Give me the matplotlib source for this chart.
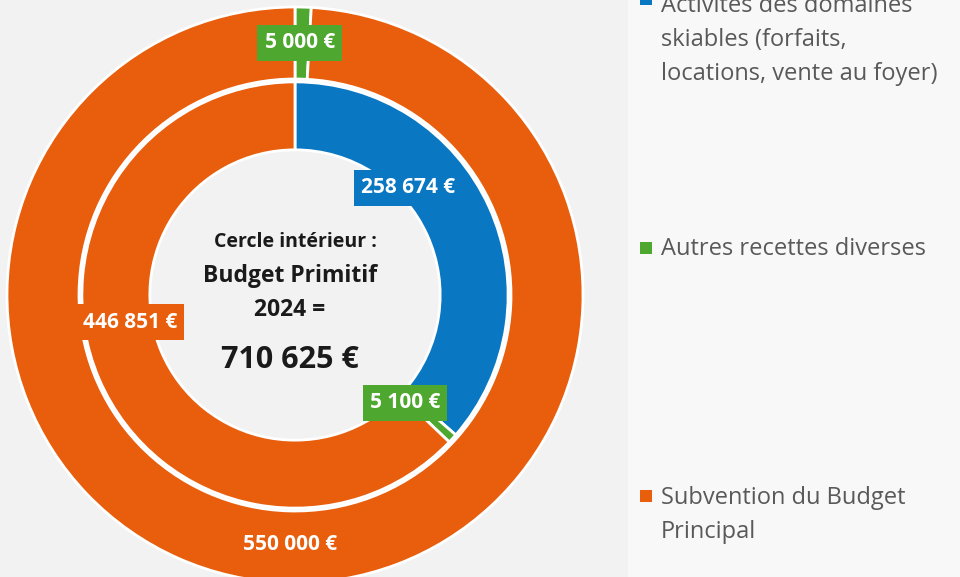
import matplotlib.pyplot as plt
from matplotlib.patches import Rectangle

# Data
categories = ["Activités des domaines skiables (forfaits, locations, vente au foyer)",
              "Autres recettes diverses",
              "Subvention du Budget Principal"]
legend_lines = ["Activités des domaines\nskiables (forfaits,\nlocations, vente au foyer)",
                "Autres recettes diverses",
                "Subvention du Budget\nPrincipal"]
inner_values = [258674, 5100, 446851]   # Budget Primitif 2024
outer_values = [0, 5000, 550000]
inner_total = sum(inner_values)

colors = ["#0A77C2", "#4EA72E", "#E85E0C"]


def euro(v):
    return f"{v:,}".replace(",", " ") + " €"


plt.rcParams['font.family'] = ['Open Sans', 'DejaVu Sans']

fig = plt.figure(figsize=(9.6, 5.77), dpi=100)
fig.patch.set_facecolor("#f2f2f2")
fig.patches.append(Rectangle((628 / 960, 0), 1 - 628 / 960, 1, transform=fig.transFigure,
                             facecolor="#f8f8f8", edgecolor="none", zorder=0))

# axes so that the donut center is at (295, 295) px with radius 288 px
R = 288
cx, cy = 295, 295
ax = fig.add_axes([(cx - R) / 960, (577 - cy - R) / 577, 2 * R / 960, 2 * R / 577])
ax.axis("off")

wedge_kw = dict(edgecolor="white", linewidth=2)
ax.pie(outer_values, radius=1.0, colors=colors, startangle=90, counterclock=False,
       wedgeprops=dict(width=0.25, **wedge_kw))
ax.pie(inner_values, radius=0.74, colors=colors, startangle=90, counterclock=False,
       wedgeprops=dict(width=0.236, **wedge_kw))
ax.set_xlim(-1, 1)
ax.set_ylim(-1, 1)
ax.set_aspect("equal")

# data labels (positions as placed in the original)
label_kw = dict(ha="center", va="center", color="white", fontsize=15, fontweight="bold")
labels = [
    (outer_values[1], 0.017, 0.875, colors[1]),
    (outer_values[2], -0.017, -0.868, colors[2]),
    (inner_values[0], 0.392, 0.372, colors[0]),
    (inner_values[1], 0.382, -0.375, colors[1]),
    (inner_values[2], -0.573, -0.094, colors[2]),
]
for v, x, y, c in labels:
    ax.text(x, y, euro(v), bbox=dict(boxstyle="square,pad=0.35", facecolor=c, edgecolor="none"),
            **label_kw)

# center text
txt_c = "#1a1a1a"
ax.text(0.0, 0.185, "Cercle intérieur :", ha="center", va="center", fontsize=14,
        fontweight="bold", color=txt_c)
ax.text(-0.017, 0.066, "Budget Primitif", ha="center", va="center", fontsize=16.5,
        fontweight="bold", color=txt_c)
ax.text(-0.017, -0.052, "2024 =", ha="center", va="center", fontsize=16.5,
        fontweight="bold", color=txt_c)
ax.text(-0.017, -0.225, euro(inner_total), ha="center", va="center", fontsize=22,
        fontweight="bold", color=txt_c)

# legend drawn by hand: baselines (px from top) of first and last lines
first_base = [6, 255, 503]
last_base = [80, 255, 538]
for txt, c, b0, b1 in zip(legend_lines, colors, first_base, last_base):
    fig.patches.append(Rectangle((640 / 960, 1 - (b0 - 1) / 577), 12 / 960, 12 / 577,
                                 transform=fig.transFigure, facecolor=c, edgecolor="none"))
    fig.text(661 / 960, 1 - b1 / 577, txt, ha="left", va="baseline", fontsize=17,
             color="#595959", linespacing=1.55)

fig.savefig("out.png", dpi=100, facecolor=fig.get_facecolor())
